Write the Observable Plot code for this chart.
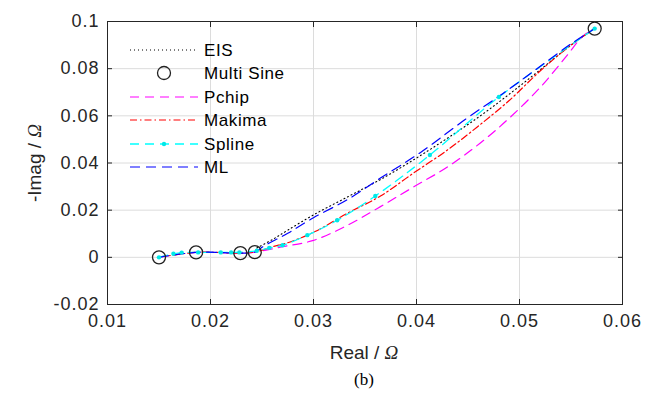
<!DOCTYPE html>
<html>
<head>
<meta charset="utf-8">
<script src="https://cdn.jsdelivr.net/npm/d3@7"></script>
<script src="https://cdn.jsdelivr.net/npm/@observablehq/plot@0.6"></script>
<style>
  html, body { margin: 0; padding: 0; background: #fff; }
  #chart { position: relative; width: 657px; height: 394px; }
</style>
</head>
<body>
<div id="chart"></div>
<script>
// ---- data ----
const xTicks = [0.01, 0.02, 0.03, 0.04, 0.05, 0.06];
const yTicks = [-0.02, 0, 0.02, 0.04, 0.06, 0.08, 0.1];

const msX = [0.0150, 0.0186, 0.0229, 0.0243, 0.0573];
const msY = [0.0000, 0.0021, 0.0018, 0.0022, 0.0970];

const eisX = [0.0245, 0.0260, 0.0275, 0.0300, 0.0333, 0.0365, 0.0397, 0.0430, 0.0462, 0.0491, 0.0520, 0.0550, 0.0573];
const eisY = [0.0040, 0.0075, 0.0115, 0.0180, 0.0256, 0.0330, 0.0413, 0.0505, 0.0600, 0.0695, 0.0795, 0.0900, 0.0970];

const pchipX = [0.0150, 0.0186, 0.0229, 0.0243, 0.0270, 0.0300, 0.0333, 0.0365, 0.0397, 0.0430, 0.0462, 0.0490, 0.0520, 0.0545, 0.0562, 0.0573];
const pchipY = [0.0000, 0.0021, 0.0018, 0.0022, 0.0045, 0.0072, 0.0136, 0.0215, 0.0298, 0.0383, 0.0485, 0.0590, 0.0720, 0.0850, 0.0940, 0.0970];

const makimaX = [0.0150, 0.0186, 0.0229, 0.0243, 0.0260, 0.0275, 0.0300, 0.0333, 0.0365, 0.0397, 0.0430, 0.0459, 0.0490, 0.0520, 0.0550, 0.0573];
const makimaY = [0.0000, 0.0021, 0.0018, 0.0022, 0.0045, 0.0062, 0.0106, 0.0187, 0.0260, 0.0357, 0.0455, 0.0553, 0.0665, 0.0790, 0.0900, 0.0970];

const splineX = [0.0150, 0.0164, 0.0172, 0.0188, 0.0210, 0.0220, 0.0228, 0.0245, 0.0257, 0.0270, 0.0294, 0.0323, 0.0360, 0.0413, 0.0480, 0.0573];
const splineY = [0.0000, 0.0015, 0.0020, 0.0021, 0.0021, 0.0021, 0.0021, 0.0028, 0.0040, 0.0051, 0.0094, 0.0157, 0.0260, 0.0434, 0.0680, 0.0970];

const mlX = [0.0150, 0.0186, 0.0229, 0.0243, 0.0252, 0.0275, 0.0300, 0.0333, 0.0365, 0.0404, 0.0449, 0.0484, 0.0517, 0.0550, 0.0573];
const mlY = [0.0000, 0.0021, 0.0018, 0.0022, 0.0048, 0.0102, 0.0168, 0.0245, 0.0336, 0.0445, 0.0590, 0.0695, 0.0800, 0.0905, 0.0970];

const series = [
  {name: "EIS",        xs: eisX,    ys: eisY,    stroke: "#000000", dash: "1,3",   width: 1.1},
  {name: "Multi Sine", xs: null},
  {name: "Pchip",      xs: pchipX,  ys: pchipY,  stroke: "#ff00ff", dash: "9,6",   width: 1.2},
  {name: "Makima",     xs: makimaX, ys: makimaY, stroke: "#ff0000", dash: "7,3,1.5,3", width: 1.2},
  {name: "Spline",     xs: splineX, ys: splineY, stroke: "#00ffff", dash: "9,6",   width: 1.3},
  {name: "ML",         xs: mlX,     ys: mlY,     stroke: "#0000ff", dash: "10,6",  width: 1.2}
];

const toRows = (xs, ys) => xs.map((x, i) => ({x, y: ys[i]}));
const fmt = d => String(+d.toFixed(2));

const lineMarks = series.filter(s => s.xs).map(s =>
  Plot.line(toRows(s.xs, s.ys), {x: "x", y: "y", stroke: s.stroke, strokeWidth: s.width,
    strokeDasharray: s.dash, curve: "catmull-rom"}));

const plot = Plot.plot({
  width: 657,
  height: 394,
  marginLeft: 107,
  marginRight: 35,
  marginTop: 21,
  marginBottom: 90,
  style: {fontFamily: "'Liberation Sans', Arial, sans-serif", fontSize: "18px", color: "#262626", background: "#fff"},
  x: {domain: [0.01, 0.06]},
  y: {domain: [-0.02, 0.1]},
  marks: [
    Plot.gridX(xTicks, {stroke: "#dcdcdc", strokeOpacity: 1}),
    Plot.gridY(yTicks, {stroke: "#dcdcdc", strokeOpacity: 1}),
    Plot.axisX(xTicks, {anchor: "bottom", tickSize: 0, tickPadding: 10, tickFormat: fmt, label: null, fill: "#262626"}),
    Plot.axisY(yTicks, {anchor: "left", tickSize: 0, tickPadding: 8, tickFormat: fmt, label: null, fill: "#262626"}),
    Plot.axisX(xTicks, {anchor: "bottom", tickSize: -5, tickFormat: () => "", label: null, stroke: "#262626"}),
    Plot.axisX(xTicks, {anchor: "top", tickSize: -5, tickFormat: () => "", label: null, stroke: "#262626"}),
    Plot.axisY(yTicks, {anchor: "left", tickSize: -5, tickFormat: () => "", label: null, stroke: "#262626"}),
    Plot.axisY(yTicks, {anchor: "right", tickSize: -5, tickFormat: () => "", label: null, stroke: "#262626"}),
    ...lineMarks,
    Plot.dot(toRows(splineX, splineY), {x: "x", y: "y", r: 2.2, fill: "#00e8e8", stroke: "none"}),
    Plot.dot(toRows(msX, msY), {x: "x", y: "y", r: 6.5, stroke: "#222", strokeWidth: 1.3, fill: "none"}),
    Plot.frame({stroke: "#262626", strokeWidth: 1})
  ]
});

document.getElementById("chart").appendChild(plot);

// ---- labels and legend (real text, appended into the plot's SVG) ----
const svg = d3.select(plot);
svg.selectAll("g[aria-label='x-axis tick label'] text, g[aria-label='y-axis tick label'] text")
  .style("letter-spacing", "1px");

const xl = svg.append("text").attr("x", 364).attr("y", 359).attr("text-anchor", "middle")
  .style("font-family", "'Liberation Sans', Arial, sans-serif").style("font-size", "19px").attr("fill", "#262626");
xl.append("tspan").text("Real / ");
xl.append("tspan").text("Ω").style("font-family", "'Liberation Serif', 'Times New Roman', serif").style("font-style", "italic");

const yl = svg.append("text").attr("transform", "translate(41,163) rotate(-90)").attr("text-anchor", "middle")
  .style("font-family", "'Liberation Sans', Arial, sans-serif").style("font-size", "19px").attr("fill", "#262626");
yl.append("tspan").text("-Imag / ");
yl.append("tspan").text("Ω").style("font-family", "'Liberation Serif', 'Times New Roman', serif").style("font-style", "italic");

svg.append("text").attr("x", 364).attr("y", 385).attr("text-anchor", "middle")
  .style("font-family", "'Liberation Serif', 'Times New Roman', serif").style("font-size", "17px").attr("fill", "#000")
  .text("(b)");

const lg = svg.append("g").style("font-family", "'Liberation Sans', Arial, sans-serif").style("font-size", "17px");
const legY = [50, 73, 97, 120, 144, 167];
series.forEach((s, i) => {
  const y = legY[i];
  if (s.xs) {
    lg.append("line").attr("x1", 130).attr("x2", 198).attr("y1", y).attr("y2", y)
      .attr("stroke", s.stroke).attr("stroke-width", s.width).attr("stroke-dasharray", s.dash);
    if (s.name === "Spline") lg.append("circle").attr("cx", 164).attr("cy", y).attr("r", 2.2).attr("fill", "#00e8e8");
  } else {
    lg.append("circle").attr("cx", 164).attr("cy", y).attr("r", 6.5).attr("fill", "none")
      .attr("stroke", "#222").attr("stroke-width", 1.3);
  }
  lg.append("text").attr("x", 204).attr("y", y).attr("dy", "0.36em").attr("fill", "#000")
    .attr("text-anchor", "start").style("letter-spacing", "0.6px").text(s.name);
});
</script>
</body>
</html>
